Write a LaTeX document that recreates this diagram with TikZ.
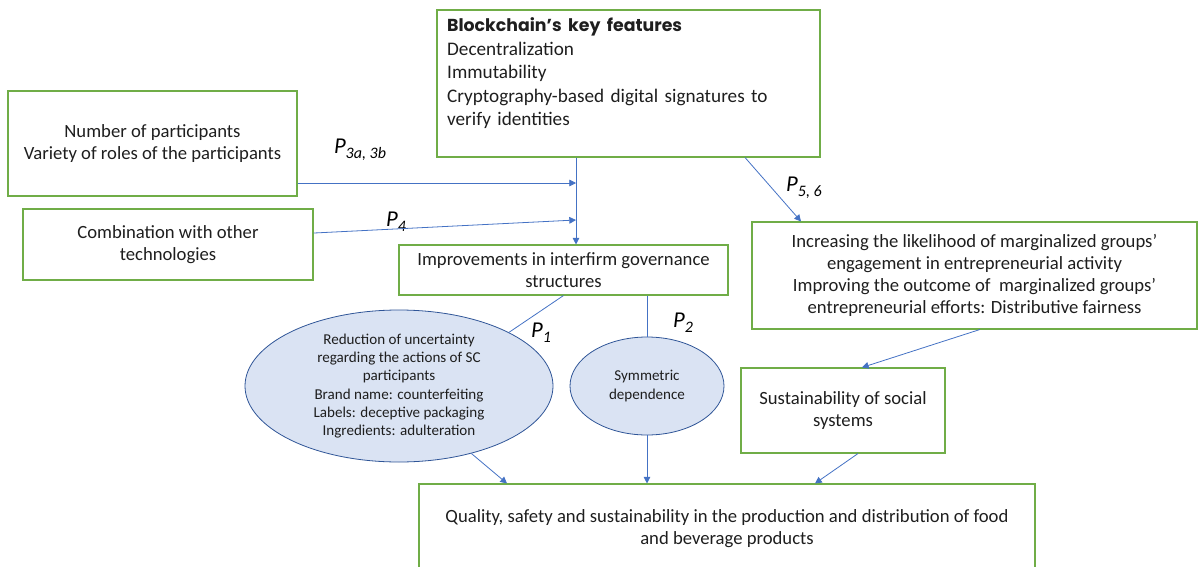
\documentclass[tikz,border=0pt]{standalone}
\usepackage{fontspec}
\setmainfont{Carlito}
\newfontfamily\headfont{Poppins}
\usetikzlibrary{arrows.meta,shapes.geometric,positioning}
\definecolor{boxgreen}{RGB}{112,173,71}
\definecolor{arrowblue}{RGB}{68,114,196}
\definecolor{ellfill}{RGB}{218,227,243}
\definecolor{ellline}{RGB}{47,85,151}
\definecolor{inktext}{RGB}{30,30,30}
\tikzset{
  greenbox/.style={draw=boxgreen, line width=0.8pt, align=center, inner sep=2pt, text=inktext, font=\fontsize{14}{16.6}\selectfont},
  bubble/.style={ellipse, draw=ellline, fill=ellfill, line width=0.6pt, align=center, inner sep=0pt, text=inktext, font=\fontsize{11.3}{13.7}\selectfont},
  link/.style={draw=arrowblue, line width=0.6pt},
  arr/.style={link, -{Triangle[length=5pt,width=5pt]}},
  plab/.style={inner sep=0pt}
}
\newcommand{\propsub}[1]{{\fontsize{17}{20}\selectfont\itshape P}\raisebox{-4pt}{\fontsize{12}{14}\selectfont\itshape #1}}

\begin{document}
\begin{tikzpicture}[x=0.75pt,y=-0.75pt]
  \useasboundingbox (0,0) rectangle (1199,567);
  % boxes
  \node[greenbox, minimum width=287.25pt, minimum height=110.25pt, text width=272pt, align=left, inner xsep=7.5pt, font=\fontsize{14.4}{17.6}\selectfont] (feat) at (628.5,83.5)
    {{\headfont\bfseries\fontsize{13}{17.6}\selectfont Blockchain’s key features}\\Decentralization\\Immutability\\Cryptography-based digital signatures to\\verify identities\\\mbox{}};
  \node[greenbox, minimum width=216.75pt, minimum height=78.75pt] (partic) at (152.5,143.5)
    {Number of participants\\Variety of roles of the participants};
  \node[greenbox, minimum width=217.5pt, minimum height=53.25pt] (combo) at (168,244.5)
    {Combination with other\\technologies};
  \node[greenbox, minimum width=246.75pt, minimum height=37.5pt] (imp) at (563.5,270)
    {Improvements in interfirm governance\\structures};
  \node[greenbox, minimum width=333.75pt, minimum height=80.25pt] (incr) at (974.5,275.5)
    {Increasing the likelihood of marginalized groups’\\engagement in entrepreneurial activity\\Improving the outcome of \ marginalized groups’\\entrepreneurial efforts: Distributive fairness};
  \node[greenbox, minimum width=153pt, minimum height=63.75pt] (sust) at (843,410.5)
    {Sustainability of social\\systems};
  \node[greenbox, minimum width=462pt, minimum height=67.5pt] (qual) at (727,529)
    {Quality, safety and sustainability in the production and distribution of food\\and beverage products};
  \node[bubble, minimum width=231pt, minimum height=114pt] (uncert) at (399,386)
    {Reduction of uncertainty\\regarding the actions of SC\\participants\\Brand name: counterfeiting\\Labels: deceptive packaging\\Ingredients: adulteration};
  \node[bubble, minimum width=115.5pt, minimum height=73.5pt] (symm) at (647,386)
    {Symmetric\\dependence};
  % P labels
  \node[plab] (p3) at (360,150) {\propsub{3a, 3b}};
  \node[plab] (p4) at (396,222) {\propsub{4}};
  \node[plab] (p56) at (804,188) {\propsub{5, 6}};
  \node[plab] (p1) at (541,333) {\propsub{1}};
  \node[plab] (p2) at (683,323) {\propsub{2}};
  % connectors
  \coordinate (jn) at (576,183);
  \coordinate (jc) at (576,220);
  \draw[arr] (feat.south -| jn) -- (imp.north -| jn);
  \draw[arr] (partic.east |- jn) -- (jn);
  \draw[arr] ([yshift=8.6pt]combo.east) -- (jc);
  \draw[arr] ([xshift=87.4pt]feat.south) -- ([xshift=-130.1pt]incr.north);
  \draw[link] (imp.south) -- (uncert.26);
  \draw[link] (imp.south -| symm.north) -- (symm.north);
  \draw[arr] ([xshift=4pt]incr.south) -- ([xshift=14.25pt]sust.north);
  \draw[arr] (uncert.-43) -- ([xshift=-165pt]qual.north);
  \draw[arr] (symm.south) -- (symm.south |- qual.north);
  \draw[arr] ([xshift=11.25pt]sust.south) -- ([xshift=66pt]qual.north);
\end{tikzpicture}
\end{document}
